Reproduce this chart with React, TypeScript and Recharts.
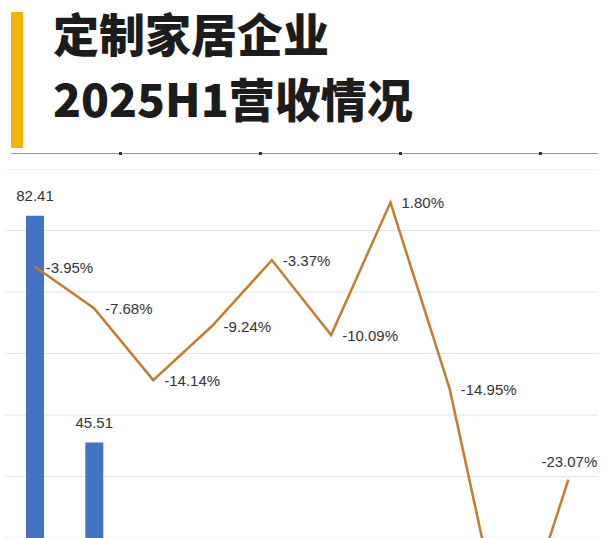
import React from 'react';
import { ComposedChart, Bar, Line, XAxis, YAxis, CartesianGrid, LabelList } from 'recharts';

// categories (names are not visible in the cropped reference)
const companies = ['欧派家居', '索菲亚', '企业3', '企业4', '企业5', '企业6', '企业7', '企业8', '企业9', '企业10'];
// revenue, 亿元 (only the first two are visible; the rest fall below the crop)
const revenue = [82.41, 45.51, 19.3, 16.0, 9.7, 6.4, 3.5, 2.9, 10.1, 1.9];
// year-on-year change, %
const growth = [-3.95, -7.68, -14.14, -9.24, -3.37, -10.09, 1.8, -14.95, -39.5, -23.07];

const titleLines = ['定制家居企业', '2025H1营收情况'];
const revenueTicks = [40, 50, 60, 70, 80];

const data = companies.map((name, i) => ({ name, revenue: revenue[i], growth: growth[i] }));

const CHART_W = 611;
const CHART_H = 369;
const labelFont = "'Liberation Sans', Arial, sans-serif";

const BarValueLabel = (props: any) => {
  const { x, y, width, height, value } = props;
  if (!(height > 0) || y > CHART_H - 20) return null;
  return (
    <text x={x + width / 2} y={y - 15} textAnchor="middle" fontSize={15} fill="#333" fontFamily={labelFont}>
      {Number(value).toFixed(2)}
    </text>
  );
};

const GrowthLabel = (props: any) => {
  const { x, y, value, index } = props;
  if (y == null || y > CHART_H - 12) return null;
  const txt = `${Number(value).toFixed(2)}%`;
  if (index === growth.length - 1) {
    return (
      <text x={x + 1} y={y - 13} textAnchor="middle" fontSize={15} fill="#333" fontFamily={labelFont}>
        {txt}
      </text>
    );
  }
  return (
    <text x={x + 11} y={y + 6} textAnchor="start" fontSize={15} fill="#333" fontFamily={labelFont}>
      {txt}
    </text>
  );
};

export default function App() {
  return (
    <div style={{ position: 'absolute', left: 0, top: 0, width: 611, height: 538, overflow: 'hidden', background: '#fff' }}>
      <div style={{ position: 'absolute', left: 11, top: 12, width: 12, height: 136, background: '#f2b507' }} />
      <div
        style={{
          position: 'absolute',
          left: 53,
          top: 0,
          fontFamily: "'Noto Sans CJK SC', sans-serif",
          fontWeight: 900,
          fontSize: 46,
          lineHeight: '65px',
          color: '#1c1c1c',
          whiteSpace: 'nowrap',
        }}
      >
        {titleLines.map((t) => (
          <div key={t}>{t}</div>
        ))}
      </div>
      <div style={{ position: 'absolute', left: 11, top: 153, width: 587, height: 1, background: '#9a9a9a' }} />
      {[119, 259, 399, 539].map((lx) => (
        <div key={lx} style={{ position: 'absolute', left: lx, top: 152, width: 3, height: 3, background: '#333' }} />
      ))}
      <div style={{ position: 'absolute', left: 0, top: 169 }}>
        <ComposedChart width={CHART_W} height={CHART_H} data={data} margin={{ top: 0, right: 13, bottom: 0, left: 5 }}>
          <CartesianGrid horizontal vertical={false} stroke="#e4e4e4" yAxisId="rev" />
          <XAxis dataKey="name" hide />
          <YAxis yAxisId="rev" hide domain={[30, 90]} ticks={revenueTicks} allowDataOverflow />
          <YAxis yAxisId="gr" hide orientation="right" domain={[-28.3, 4.8]} allowDataOverflow />
          <Bar yAxisId="rev" dataKey="revenue" fill="#4472c4" barSize={18} isAnimationActive={false}>
            <LabelList dataKey="revenue" content={BarValueLabel} />
          </Bar>
          <Line
            yAxisId="gr"
            dataKey="growth"
            stroke="#c47d2e"
            strokeWidth={2.5}
            dot={false}
            type="linear"
            isAnimationActive={false}
          >
            <LabelList dataKey="growth" content={GrowthLabel} />
          </Line>
        </ComposedChart>
      </div>
    </div>
  );
}
